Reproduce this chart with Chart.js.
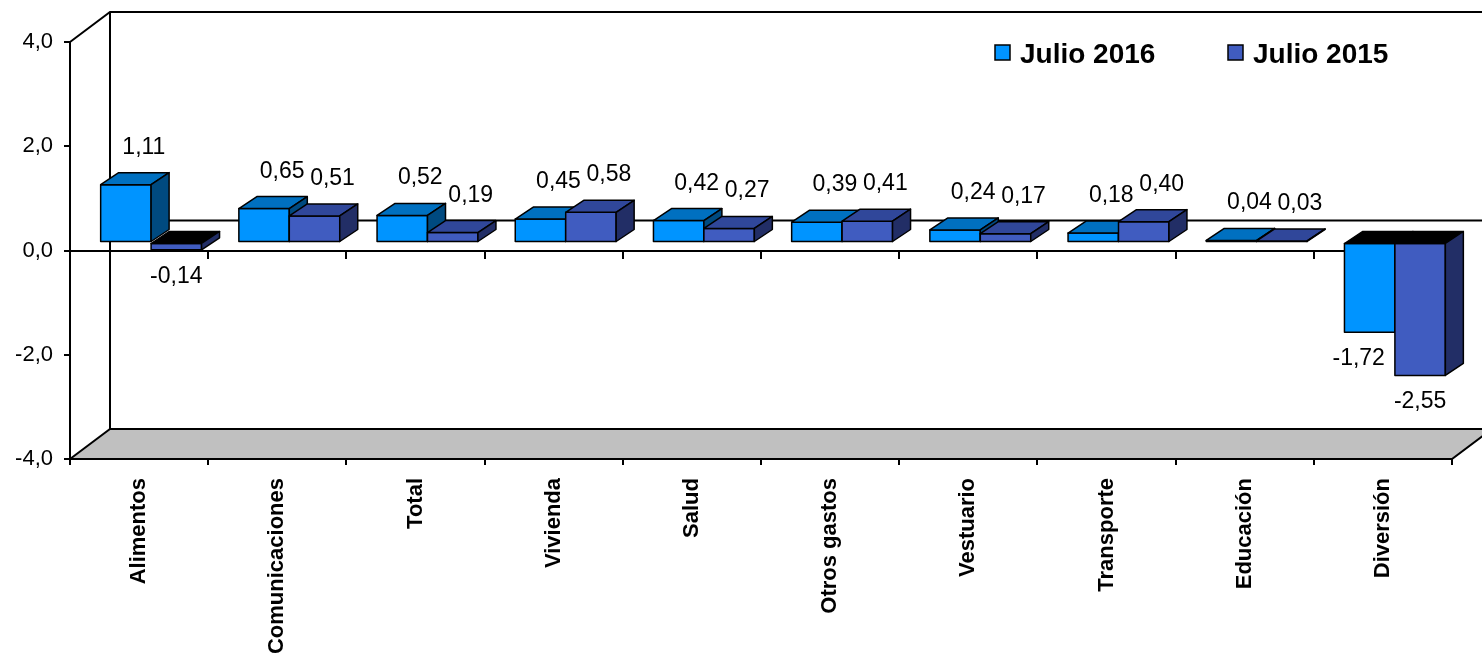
<!DOCTYPE html>
<html>
<head>
<meta charset="utf-8">
<script src="https://cdn.jsdelivr.net/npm/chart.js@4.4.0/dist/chart.umd.min.js"></script>
<style>
    body { margin: 0; background: #fff; }
    #grafico { display: block; }
</style>
</head>
<body>
<canvas id="grafico" width="1482" height="669"></canvas>
<script>
const categorias = ['Alimentos', 'Comunicaciones', 'Total', 'Vivienda', 'Salud', 'Otros gastos', 'Vestuario', 'Transporte', 'Educación', 'Diversión']
const julio2016 = [1.11, 0.65, 0.52, 0.45, 0.42, 0.39, 0.24, 0.18, 0.04, -1.72]
const julio2015 = [-0.14, 0.51, 0.19, 0.58, 0.27, 0.41, 0.17, 0.40, 0.03, -2.55]
const ticksY = [-4, -2, 0, 2, 4]

const colores = [
    { frente: '#0094FF', arriba: '#0070C0', lado: '#004A80' },
    { frente: '#405CC0', arriba: '#30479A', lado: '#222E66' }
]
const fuente = '"Liberation Sans", Arial, sans-serif'

// desplazamiento de la fila de barras y profundidad de cada barra
const filaX = 12, filaY = -8
const profX = 18, profY = -12
// fondo de la caja 3D
const fondoX = 40, fondoY = -30

function coma(v, dec) {
    return v.toFixed(dec).replace('.', ',')
}

function poligono(ctx, pts, relleno) {
    ctx.beginPath()
    ctx.moveTo(pts[0][0], pts[0][1])
    for (let i = 1; i < pts.length; i++) ctx.lineTo(pts[i][0], pts[i][1])
    ctx.closePath()
    ctx.fillStyle = relleno
    ctx.fill()
    ctx.stroke()
}

const caja3d = {
    id: 'caja3d',
    beforeDraw(chart) {
        const { ctx, chartArea: a } = chart
        const y0 = chart.scales.y.getPixelForValue(0)
        ctx.save()
        ctx.strokeStyle = '#000'
        ctx.lineWidth = 2
        // piso
        poligono(ctx, [[a.left, a.bottom], [a.left + fondoX, a.bottom + fondoY],
            [a.right + fondoX, a.bottom + fondoY], [a.right, a.bottom]], '#C0C0C0')
        // pared del fondo
        ctx.beginPath()
        ctx.moveTo(a.left, a.top)
        ctx.lineTo(a.left + fondoX, a.top + fondoY)
        ctx.lineTo(a.right + fondoX, a.top + fondoY)
        ctx.moveTo(a.left + fondoX, a.top + fondoY)
        ctx.lineTo(a.left + fondoX, a.bottom + fondoY)
        ctx.moveTo(a.left + fondoX, y0 + fondoY)
        ctx.lineTo(a.right + fondoX, y0 + fondoY)
        ctx.stroke()
        ctx.restore()
    },
    beforeDatasetsDraw(chart) {
        const ctx = chart.ctx
        ctx.save()
        ctx.translate(filaX, filaY)
        ctx.strokeStyle = '#000'
        ctx.lineWidth = 1.5
        ctx.lineJoin = 'round'
        const metas = [chart.getDatasetMeta(0), chart.getDatasetMeta(1)]
        for (let j = 0; j < categorias.length; j++) {
            metas.forEach((meta, d) => {
                const b = meta.data[j]
                const v = chart.data.datasets[d].data[j]
                const c = colores[d]
                const izq = b.x - b.width / 2, der = b.x + b.width / 2
                const arr = Math.min(b.y, b.base), abj = Math.max(b.y, b.base)
                ctx.fillStyle = c.frente
                ctx.fillRect(izq, arr, der - izq, abj - arr)
                ctx.strokeRect(izq, arr, der - izq, abj - arr)
                poligono(ctx, [[izq, arr], [der, arr], [der + profX, arr + profY], [izq + profX, arr + profY]],
                    v < 0 ? '#000' : c.arriba)
                poligono(ctx, [[der, arr], [der + profX, arr + profY], [der + profX, abj + profY], [der, abj]], c.lado)
            })
        }
        // etiquetas de valores
        ctx.fillStyle = '#000'
        ctx.font = '23px ' + fuente
        ctx.textBaseline = 'alphabetic'
        metas.forEach((meta, d) => {
            meta.data.forEach((b, j) => {
                const v = chart.data.datasets[d].data[j]
                const txt = coma(v, 2)
                if (v >= 0) {
                    ctx.textAlign = 'center'
                    ctx.fillText(txt, b.x + profX, b.y + profY - 19)
                } else if (d === 0) {
                    ctx.textAlign = 'right'
                    ctx.fillText(txt, b.x + b.width / 2 - 10, b.y + 33)
                } else {
                    ctx.textAlign = 'center'
                    ctx.fillText(txt, b.x, b.y + 33)
                }
            })
        })
        ctx.restore()
        return false
    },
    afterDraw(chart) {
        const { ctx, chartArea: a } = chart
        ctx.save()
        ctx.font = 'bold 28px ' + fuente
        ctx.textBaseline = 'alphabetic'
        ctx.textAlign = 'left'
        ctx.lineWidth = 1.5
        ctx.strokeStyle = '#000'
        let x = a.right - 457
        chart.data.datasets.forEach((ds, d) => {
            ctx.fillStyle = colores[d].frente
            ctx.fillRect(x, 45, 15, 15)
            ctx.strokeRect(x, 45, 15, 15)
            ctx.fillStyle = '#000'
            ctx.fillText(ds.label, x + 25, 63)
            x += 233
        })
        ctx.restore()
    }
}

new Chart(document.getElementById('grafico'), {
    type: 'bar',
    data: {
        labels: categorias,
        datasets: [
            { label: 'Julio 2016', data: julio2016, backgroundColor: colores[0].frente },
            { label: 'Julio 2015', data: julio2015, backgroundColor: colores[1].frente }
        ]
    },
    options: {
        responsive: false,
        animation: false,
        devicePixelRatio: 1,
        categoryPercentage: 0.73,
        barPercentage: 1,
        layout: { padding: { top: 42, right: 30, left: 0, bottom: 0 } },
        plugins: {
            legend: { display: false },
            tooltip: { enabled: false }
        },
        scales: {
            x: {
                offset: true,
                grid: { offset: true, drawOnChartArea: false, tickLength: 6, color: '#000', lineWidth: 2 },
                border: { color: '#000', width: 2 },
                ticks: {
                    color: '#000', font: { family: fuente, size: 22, weight: 'bold' },
                    minRotation: 90, maxRotation: 90, padding: 13, autoSkip: false
                },
                afterFit: (s) => { s.height = 210 }
            },
            x2: {
                type: 'category',
                position: { y: 0 },
                offset: true,
                z: 1,
                grid: { offset: true, drawOnChartArea: false, tickLength: 7, color: '#000', lineWidth: 2 },
                border: { color: '#000', width: 2 },
                ticks: { display: false }
            },
            y: {
                min: ticksY[0],
                max: ticksY[ticksY.length - 1],
                afterBuildTicks: (s) => { s.ticks = ticksY.map(v => ({ value: v })) },
                grid: { drawOnChartArea: false, tickLength: 6, color: '#000', lineWidth: 2 },
                border: { color: '#000', width: 2 },
                ticks: {
                    color: '#000', font: { family: fuente, size: 22 }, padding: 11,
                    callback: (v) => coma(v, 1)
                },
                afterFit: (s) => { s.width = 70 }
            }
        }
    },
    plugins: [caja3d]
})
</script>
</body>
</html>
